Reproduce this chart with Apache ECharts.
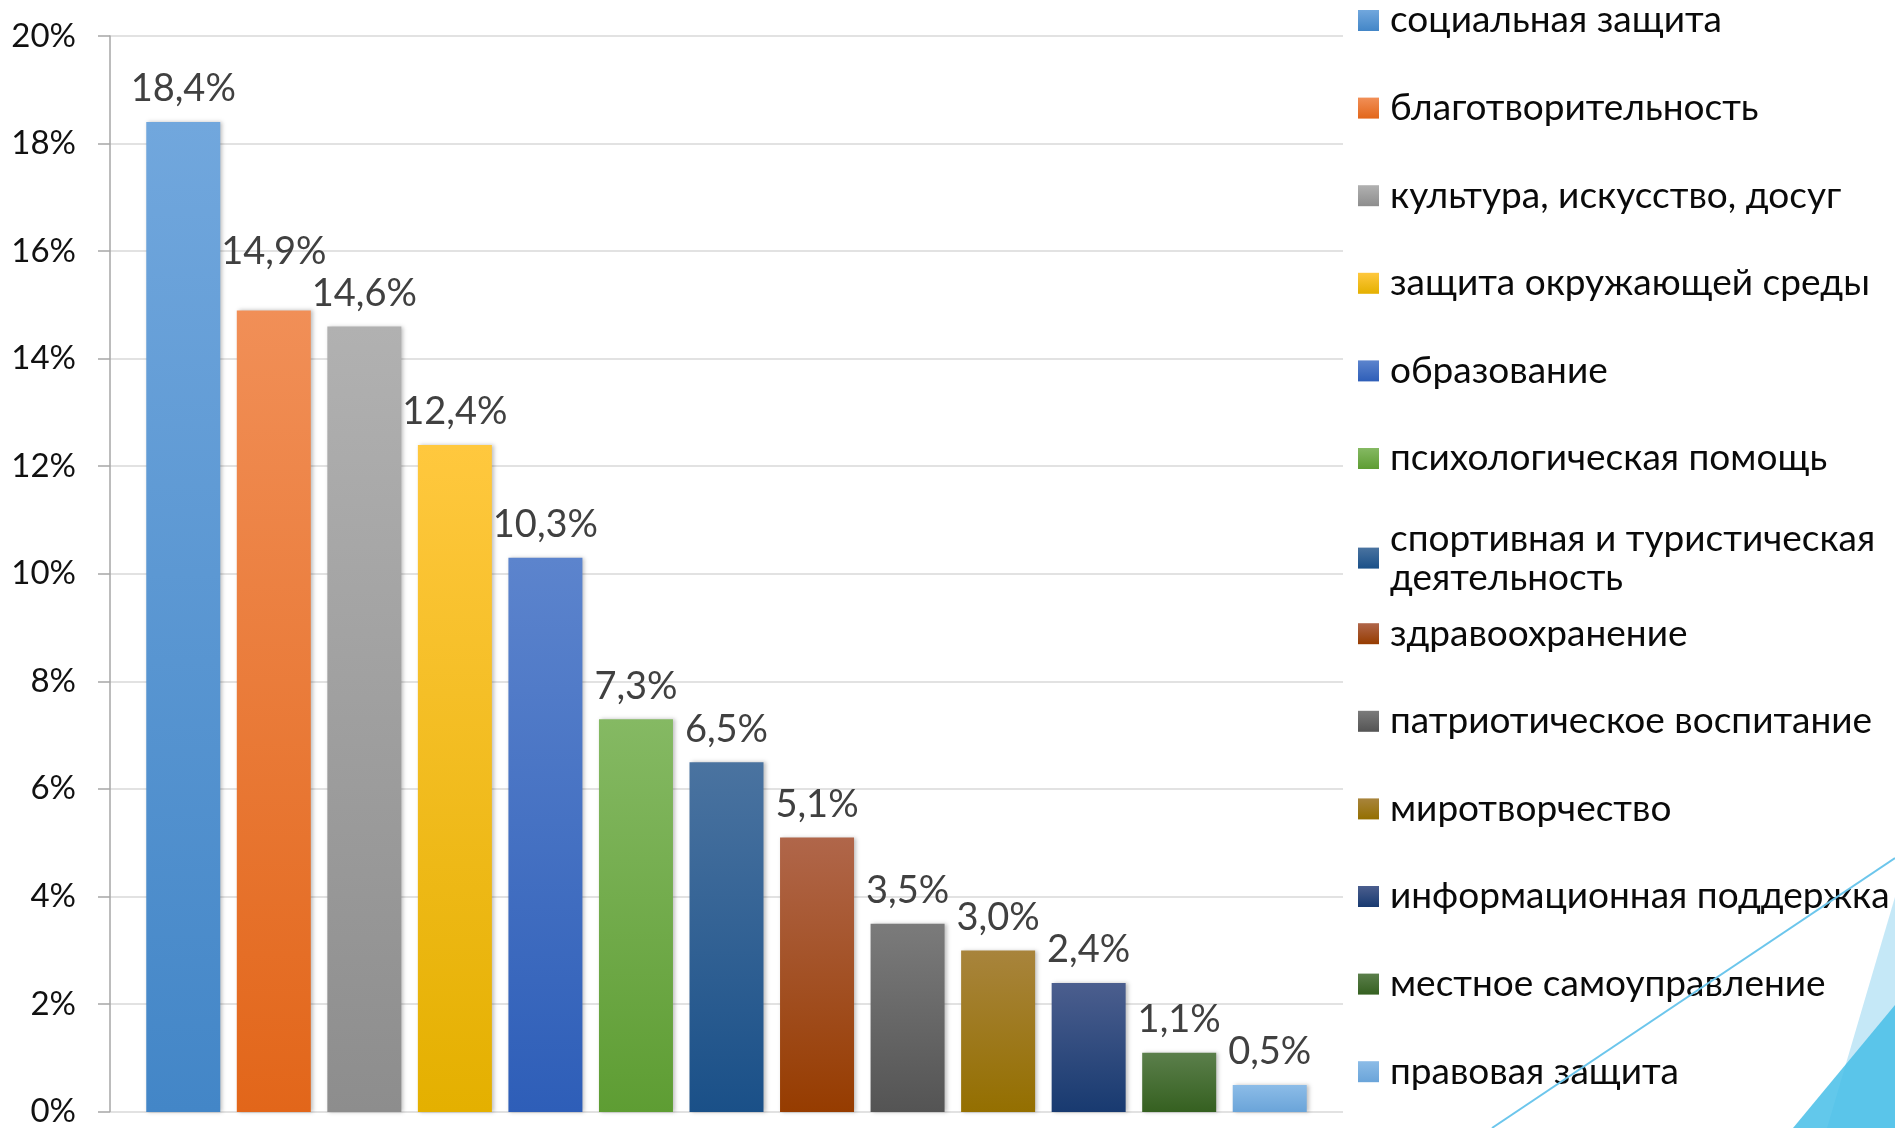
<!DOCTYPE html>
<html lang="ru">
<head>
    <meta charset="UTF-8">
    <title>Направления деятельности</title>
    <script src="https://cdn.jsdelivr.net/npm/echarts@6/dist/echarts.min.js"></script>
    <style>
        html, body { margin: 0; padding: 0; background: #fff; }
        #main { width: 1895px; height: 1128px; }
    </style>
</head>
<body>
    <div id="main"></div>
    <script>
        // данные
        var categories = [
            'социальная защита',
            'благотворительность',
            'культура, искусство, досуг',
            'защита окружающей среды',
            'образование',
            'психологическая помощь',
            'спортивная и туристическая деятельность',
            'здравоохранение',
            'патриотическое воспитание',
            'миротворчество',
            'информационная поддержка',
            'местное самоуправление',
            'правовая защита'
        ];
        var values = [18.4, 14.9, 14.6, 12.4, 10.3, 7.3, 6.5, 5.1, 3.5, 3.0, 2.4, 1.1, 0.5];
        var yTicks = [0, 2, 4, 6, 8, 10, 12, 14, 16, 18, 20];

        // цвета (верх / низ градиента)
        var topColors = ['#71a7dd', '#f18f57', '#b1b1b1', '#ffc83e', '#5c84cd', '#85b963', '#4a73a0', '#b0664a', '#7b7b7b', '#a8843c', '#4b5e8e', '#5b7f4b', '#8cbce7'];
        var bottomColors = ['#4386c7', '#e2661a', '#8d8d8d', '#e4b000', '#2e5eb8', '#5e9d33', '#1a5088', '#963c00', '#545454', '#946f00', '#183a70', '#356020', '#6aa4d9'];

        var font = 'Lato, "Open Sans", "Noto Sans", sans-serif';

        function grad(i) {
            return new echarts.graphic.LinearGradient(0, 0, 0, 1, [
                { offset: 0, color: topColors[i] },
                { offset: 1, color: bottomColors[i] }
            ]);
        }

        function fmt(v) {
            return v.toFixed(1).replace('.', ',') + '%';
        }

        var series = categories.map(function (name, i) {
            var d = categories.map(function (c, j) { return j === i ? values[i] : null; });
            return {
                name: name,
                type: 'bar',
                stack: 'all',
                xAxisIndex: 1,
                yAxisIndex: 1,
                barWidth: 74,
                data: d,
                itemStyle: {
                    color: grad(i),
                    shadowColor: 'rgba(0,0,0,0.25)',
                    shadowBlur: 4,
                    shadowOffsetX: 2
                },
                label: {
                    show: true,
                    position: 'top',
                    distance: 14,
                    // подпись 14,9% в оригинале приподнята
                    offset: i === 1 ? [0, -26] : [0, 0],
                    fontFamily: font,
                    fontSize: 38,
                    lineHeight: 38,
                    color: '#404040',
                    formatter: function (p) { return fmt(p.value); }
                },
                emphasis: { disabled: true }
            };
        });

        var legends = categories.map(function (name, i) {
            var center = 20.5 + i * 87.6;
            var top = center - 19.5;
            if (name.length > 30) top = center - 27;
            return {
                data: [name],
                left: 1358,
                top: top,
                padding: 0,
                orient: 'vertical',
                icon: 'rect',
                itemWidth: 21,
                itemHeight: 21,
                selectedMode: false,
                formatter: function (n) {
                    if (n.length > 30) {
                        var k = n.lastIndexOf(' ');
                        return n.slice(0, k) + '\n' + n.slice(k + 1);
                    }
                    return n;
                },
                textStyle: {
                    fontFamily: font,
                    fontSize: 37,
                    lineHeight: 39,
                    color: '#0a0a0a',
                    padding: [0, 0, 0, 6]
                }
            };
        });

        var myChart = echarts.init(document.getElementById('main'));
        var option = {
            animation: false,
            backgroundColor: '#fff',
            legend: legends,
            grid: [
                { left: 110, right: 552, top: 36, bottom: 16 },
                { left: 138, right: 580, top: 36, bottom: 16 }
            ],
            xAxis: [
                {
                    type: 'category',
                    gridIndex: 0,
                    data: categories,
                    axisLine: { show: false },
                    axisTick: { show: false },
                    axisLabel: { show: false }
                },
                {
                    type: 'category',
                    gridIndex: 1,
                    data: categories,
                    axisLine: { show: false },
                    axisTick: { show: false },
                    axisLabel: { show: false }
                }
            ],
            yAxis: [
                {
                    type: 'value',
                    gridIndex: 0,
                    min: yTicks[0],
                    max: yTicks[yTicks.length - 1],
                    interval: 2,
                    axisLine: { show: true, lineStyle: { color: '#a6a6a6', width: 1.5 } },
                    axisTick: { show: true, inside: false, length: 12, lineStyle: { color: '#a6a6a6', width: 1.5 } },
                    splitLine: { show: true, lineStyle: { color: '#d9d9d9', width: 1.5 } },
                    axisLabel: {
                        margin: 34,
                        fontFamily: font,
                        fontSize: 33,
                        color: '#111',
                        formatter: '{value}%'
                    }
                },
                {
                    type: 'value',
                    gridIndex: 1,
                    min: yTicks[0],
                    max: yTicks[yTicks.length - 1],
                    show: false,
                    splitLine: { show: false }
                }
            ],
            graphic: [
                {
                    type: 'line',
                    shape: { x1: 1492, y1: 1128, x2: 1895, y2: 858 },
                    style: { stroke: '#6cc6ec', lineWidth: 2 },
                    z: 100
                },
                {
                    type: 'polygon',
                    shape: { points: [[1827, 1128], [1895, 897], [1895, 1128]] },
                    style: { fill: 'rgba(150,213,240,0.55)' },
                    z: 100
                },
                {
                    type: 'polygon',
                    shape: { points: [[1793, 1128], [1895, 1005], [1895, 1128]] },
                    style: { fill: 'rgba(70,190,232,0.85)' },
                    z: 101
                }
            ],
            series: series
        };
        myChart.setOption(option);
    </script>
</body>
</html>
